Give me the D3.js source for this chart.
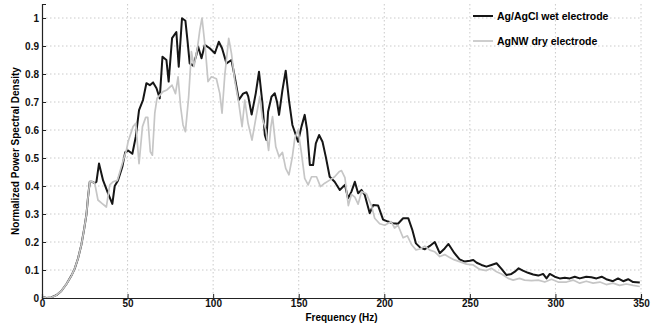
<!DOCTYPE html>
<html>
<head>
<meta charset="utf-8">
<script src="https://cdn.jsdelivr.net/npm/d3@7"></script>
<style>
    html, body { margin: 0; padding: 0; background: #fff; }
    svg { display: block; font-family: "Liberation Sans", Arial, sans-serif; font-weight: bold; }
</style>
</head>
<body>
<div id="chart"></div>
<script>
// values (frequency in Hz, normalized PSD)
const lowFreq = [ 0, 2.5, 5.4, 8.4, 11.3, 14.3, 17.2, 19.1, 21, 23, 24.6, 26, 26.9, 27.9, 29.4, 30.8 ];
const lowPsd  = [ 0.005, 0, 0.002, 0.01, 0.025, 0.05, 0.08, 0.105, 0.14, 0.19, 0.245, 0.30, 0.36, 0.415, 0.415, 0.41 ];

const wetFreq = [ 31.8, 33.3, 35.7, 38.6, 41.1, 42.5, 44.4, 47, 48.6, 50.3, 52.8, 54.8, 56.7, 59, 61, 63, 64.9, 66.9, 68.8, 70.4,
    72.7, 74, 76, 78.5, 79.9, 81.8, 83.8, 85, 86.3, 88.3, 90.2, 91.2, 93.2, 95.1, 98, 101, 103.3, 105.2, 107.8, 110.7,
    112.6, 115, 117.5, 119.5, 120.5, 122.5, 124.9, 126.8, 128.8, 130.2, 131.1, 132.1, 134.1, 136, 137.3, 138.5, 140.5, 142.4, 144.3, 146.3,
    148.3, 149.6, 151.6, 153.5, 154.9, 156.5, 158.4, 160, 161.9, 163.9, 165.8, 168.1, 171, 174, 177, 178.8, 180.8, 182.8, 184.7, 186.7,
    188.6, 191.5, 193.5, 196.4, 199.3, 202.2, 205, 208, 211, 214, 216.4, 218.5, 221, 223.7, 226.6, 229.5, 232.4, 235.3, 237.5, 241,
    244, 247, 250, 252, 254, 256.8, 259.7, 262.6, 265.6, 268.5, 271.4, 274.3, 276.3, 278.5, 281, 284, 287, 290, 292.8, 294.8,
    296.7, 299.6, 302.5, 305.5, 308.4, 311.3, 314.2, 318, 321, 324, 327, 329.7, 333.6, 336.6, 339.6, 342.5, 345.4, 349.3 ];
const wetPsd  = [ 0.415, 0.48, 0.42, 0.374, 0.336, 0.40, 0.42, 0.47, 0.52, 0.527, 0.515, 0.576, 0.671, 0.707, 0.767, 0.76, 0.77, 0.749, 0.713, 0.862,
    0.85, 0.773, 0.928, 0.95, 0.826, 0.999, 0.99, 0.92, 0.838, 0.83, 0.868, 0.898, 0.856, 0.904, 0.892, 0.874, 0.915, 0.892, 0.838, 0.85,
    0.79, 0.707, 0.73, 0.735, 0.72, 0.655, 0.731, 0.808, 0.695, 0.582, 0.564, 0.665, 0.719, 0.731, 0.701, 0.654, 0.743, 0.812, 0.707, 0.618,
    0.582, 0.558, 0.612, 0.654, 0.60, 0.475, 0.475, 0.552, 0.582, 0.558, 0.505, 0.433, 0.415, 0.386, 0.404, 0.356, 0.38, 0.415, 0.374, 0.386,
    0.368, 0.303, 0.332, 0.33, 0.28, 0.273, 0.267, 0.265, 0.285, 0.285, 0.243, 0.195, 0.18, 0.174, 0.186, 0.20, 0.16, 0.177, 0.193, 0.16,
    0.138, 0.13, 0.133, 0.136, 0.126, 0.118, 0.112, 0.118, 0.124, 0.104, 0.082, 0.086, 0.094, 0.106, 0.098, 0.09, 0.084, 0.08, 0.086, 0.07,
    0.086, 0.076, 0.07, 0.072, 0.07, 0.076, 0.07, 0.076, 0.074, 0.07, 0.076, 0.067, 0.06, 0.07, 0.06, 0.067, 0.057, 0.055 ];

const dryFreq = [ 32.7, 35, 37.6, 39.6, 41.5, 44, 47.4, 49.3, 50.3, 53.2, 54.8, 56.7, 58.7, 60.6, 61.8, 63.3, 64.5, 65.9, 67.2, 70.7,
    73, 76, 78, 79.5, 81, 82.4, 83.8, 85.7, 87.3, 88.8, 90.8, 92.2, 93.5, 95.5, 97, 99, 101.9, 103.9, 105.2, 106.8,
    109.1, 110.7, 112.6, 115, 116.9, 118.5, 120.4, 122.7, 125.3, 127.3, 128.8, 130.8, 132.4, 133.7, 134.7, 136.6, 138.5, 140.5, 142.4, 144.3,
    146.3, 147.7, 149.6, 151.6, 153.5, 155.5, 157.5, 160.4, 162.7, 165.2, 168.1, 171, 173.6, 175, 177, 179, 180.8, 182.8, 184.7, 186.7,
    189.6, 192.5, 194.4, 197.3, 200.3, 204, 206, 208, 211, 213.5, 216, 218.5, 220.8, 223.7, 226.6, 229.5, 232.4, 235.3, 238.2, 241,
    244, 248, 252, 255.8, 259.7, 262.6, 265.6, 268.5, 272.4, 275.3, 279, 282, 286, 290, 293.8, 297.7, 301.6, 306.5, 310.3, 314.2,
    318, 322, 326, 329.7, 333.6, 337.5, 341.4, 345.4, 349.3 ];
const dryPsd  = [ 0.35, 0.338, 0.325, 0.404, 0.415, 0.42, 0.49, 0.527, 0.558, 0.612, 0.624, 0.48, 0.612, 0.645, 0.645, 0.522, 0.51, 0.66, 0.713, 0.737,
    0.743, 0.76, 0.73, 0.79, 0.683, 0.618, 0.594, 0.719, 0.88, 0.826, 0.892, 0.957, 1.0, 0.886, 0.773, 0.79, 0.783, 0.73, 0.66, 0.796,
    0.927, 0.874, 0.778, 0.695, 0.612, 0.707, 0.624, 0.564, 0.654, 0.72, 0.64, 0.60, 0.527, 0.61, 0.648, 0.54, 0.505, 0.52, 0.463, 0.44,
    0.505, 0.57, 0.60, 0.517, 0.427, 0.404, 0.433, 0.433, 0.398, 0.41, 0.421, 0.433, 0.451, 0.455, 0.43, 0.33, 0.37, 0.36, 0.335, 0.38,
    0.372, 0.33, 0.285, 0.265, 0.26, 0.273, 0.25, 0.26, 0.215, 0.222, 0.19, 0.172, 0.175, 0.185, 0.171, 0.165, 0.148, 0.155, 0.145, 0.136,
    0.13, 0.121, 0.118, 0.102, 0.098, 0.106, 0.094, 0.086, 0.07, 0.064, 0.07, 0.064, 0.062, 0.064, 0.057, 0.067, 0.057, 0.057, 0.064, 0.053,
    0.06, 0.053, 0.057, 0.048, 0.053, 0.045, 0.05, 0.045, 0.041 ];

const xTicks = [ 0, 50, 100, 150, 200, 250, 300, 350 ];
const yTicks = [ 0, 0.1, 0.2, 0.3, 0.4, 0.5, 0.6, 0.7, 0.8, 0.9, 1 ];
const seriesNames = [ 'Ag/AgCl wet electrode', 'AgNW dry electrode' ];
const seriesColors = [ '#161616', '#c6c6c6' ];

const width = 657, height = 329;
const margin = { top: 4, right: 16, bottom: 31, left: 42 };
const innerWidth = width - margin.left - margin.right;
const innerHeight = height - margin.top - margin.bottom;

const toPoints = ( fs, vs ) => fs.map( ( f, i ) => [ f, vs[ i ] ] );
const lowPts = toPoints( lowFreq, lowPsd );
const wetPts = lowPts.concat( toPoints( wetFreq, wetPsd ) );
const dryPts = lowPts.concat( toPoints( dryFreq, dryPsd ) );

const svg = d3.select( '#chart' ).append( 'svg' )
    .attr( 'width', width )
    .attr( 'height', height );

const chart = svg.append( 'g' )
    .attr( 'transform', `translate(${ margin.left }, ${ margin.top })` );

const xScale = d3.scaleLinear()
    .domain( [ 0, 350 ] )
    .range( [ 0, innerWidth ] );

const yScale = d3.scaleLinear()
    .domain( [ 0, 1.05 ] )
    .range( [ innerHeight, 0 ] );

// dotted grid
chart.append( 'g' )
    .selectAll( 'line' )
    .data( xTicks.slice( 1 ) )
    .enter()
    .append( 'line' )
    .attr( 'x1', d => xScale( d ) )
    .attr( 'x2', d => xScale( d ) )
    .attr( 'y1', 0 )
    .attr( 'y2', innerHeight )
    .attr( 'stroke', '#bdbdbd' )
    .attr( 'stroke-width', 0.8 )
    .attr( 'stroke-dasharray', '1.5,2.5' );

chart.append( 'g' )
    .selectAll( 'line' )
    .data( yTicks.slice( 1 ) )
    .enter()
    .append( 'line' )
    .attr( 'x1', 0 )
    .attr( 'x2', innerWidth )
    .attr( 'y1', d => yScale( d ) )
    .attr( 'y2', d => yScale( d ) )
    .attr( 'stroke', '#bdbdbd' )
    .attr( 'stroke-width', 0.8 )
    .attr( 'stroke-dasharray', '1.5,2.5' );

const line = d3.line()
    .x( d => xScale( d[ 0 ] ) )
    .y( d => yScale( d[ 1 ] ) );

chart.append( 'path' )
    .datum( wetPts )
    .attr( 'd', line )
    .attr( 'fill', 'none' )
    .attr( 'stroke', seriesColors[ 0 ] )
    .attr( 'stroke-width', 2 )
    .attr( 'stroke-linejoin', 'round' );

chart.append( 'path' )
    .datum( dryPts )
    .attr( 'd', line )
    .attr( 'fill', 'none' )
    .attr( 'stroke', seriesColors[ 1 ] )
    .attr( 'stroke-width', 1.7 )
    .attr( 'stroke-linejoin', 'round' );

// axes, MATLAB style ticks pointing inward
const xAxis = d3.axisBottom( xScale )
    .tickValues( xTicks )
    .tickSize( -4 )
    .tickPadding( 2 )
    .tickFormat( d3.format( 'd' ) );

const xG = chart.append( 'g' )
    .attr( 'transform', `translate(0, ${ innerHeight })` )
    .call( xAxis );

const yAxis = d3.axisLeft( yScale )
    .tickValues( yTicks )
    .tickSize( -4 )
    .tickPadding( 3 )
    .tickFormat( d => d === 0 || d === 1 ? String( d ) : d.toFixed( 1 ) );

const yG = chart.append( 'g' )
    .call( yAxis );

[ xG, yG ].forEach( g => {
    g.attr( 'font-family', '"Liberation Sans", Arial, sans-serif' )
        .attr( 'font-size', 10 );
    g.select( '.domain' ).attr( 'stroke', '#222' ).attr( 'stroke-width', 1.2 );
    g.selectAll( '.tick line' ).attr( 'stroke', '#222' );
    g.selectAll( '.tick text' )
        .attr( 'fill', '#111' )
        .style( 'font-weight', 'bold' );
} );

svg.append( 'text' )
    .attr( 'x', margin.left + innerWidth / 2 )
    .attr( 'y', 321 )
    .attr( 'text-anchor', 'middle' )
    .style( 'font-size', '10px' )
    .text( 'Frequency (Hz)' );

svg.append( 'text' )
    .attr( 'transform', `translate(19, ${ margin.top + innerHeight / 2 }) rotate(-90)` )
    .attr( 'text-anchor', 'middle' )
    .style( 'font-size', '10px' )
    .text( 'Normalized Power Spectral Density' );

// legend
const legend = svg.append( 'g' )
    .attr( 'transform', 'translate(473, 16)' );

const legendItem = legend.selectAll( '.item' )
    .data( seriesNames )
    .enter()
    .append( 'g' )
    .attr( 'class', 'item' )
    .attr( 'transform', ( d, i ) => `translate(0, ${ i * 25 })` );

legendItem.append( 'line' )
    .attr( 'x1', 0 )
    .attr( 'x2', 20 )
    .attr( 'stroke', ( d, i ) => seriesColors[ i ] )
    .attr( 'stroke-width', ( d, i ) => i === 0 ? 2 : 1.7 );

legendItem.append( 'text' )
    .attr( 'x', 24 )
    .attr( 'dy', '0.35em' )
    .style( 'font-size', '10.5px' )
    .text( d => d );
</script>
</body>
</html>
